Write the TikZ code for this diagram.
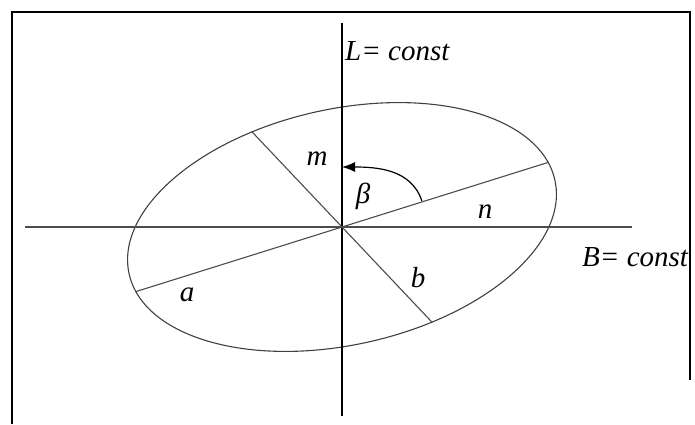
\documentclass[tikz,border=0pt]{standalone}
\usepackage{fontspec}
\setmainfont{Liberation Serif}
\usetikzlibrary{positioning, arrows.meta, calc, shapes.geometric}

\begin{document}
\begin{tikzpicture}[
        x=1pt, y=1pt,
        lbl/.style={font=\fontsize{29}{34}\selectfont\itshape, inner sep=0pt},
        axis/.style={line width=1.2pt, draw=black},
        grayline/.style={line width=1.1pt, draw=black!70},
        arrow/.style={-{Latex[length=13pt, width=10pt]}, line width=1.2pt}
    ]
        \useasboundingbox (0,0) rectangle (695,424);
        % frame
        \draw[line width=1.8pt] (12,0) |- (690,412) -- (690,44);
        % centre and ellipse
        \coordinate (O) at (342,197);
        \node[ellipse, draw=black!75, line width=1.1pt, inner sep=0pt,
            minimum width=436pt, minimum height=236pt, rotate=12.4] (ell) at (O) {};
        % axes
        \coordinate (Ltop) at (342,401);
        \coordinate (Lbot) at (342,8);
        \coordinate (Bleft) at (25,197);
        \coordinate (Bright) at (632,197);
        \draw[axis] (Ltop) -- (Lbot);
        \draw[grayline, line width=1.4pt] (Bleft) -- (Bright);
        % diameters
        \draw[grayline] (ell.185.6) -- (ell.5.6);
        \draw[grayline] (ell.121.6) -- (ell.301.6);
        % angle arrow
        \coordinate (arcstart) at ($(O)+(18:84)$);
        \coordinate (arcend) at ($(O)+(0,60)$);
        \draw[arrow] (arcstart) to[out=108, in=0] (arcend);
        % labels
        \node[lbl, anchor=base west] (Llab) at (345,363) {L= const};
        \node[lbl, anchor=base west] (Blab) at (582,158) {B= const};
        \node[lbl] (mlab) at (317,265) {m};
        \node[lbl] (betalab) at (363,228) {β};
        \node[lbl] (nlab) at (485,212) {n};
        \node[lbl] (alab) at (187,129) {a};
        \node[lbl] (blab) at (418,146) {b};
    \end{tikzpicture}
\end{document}
